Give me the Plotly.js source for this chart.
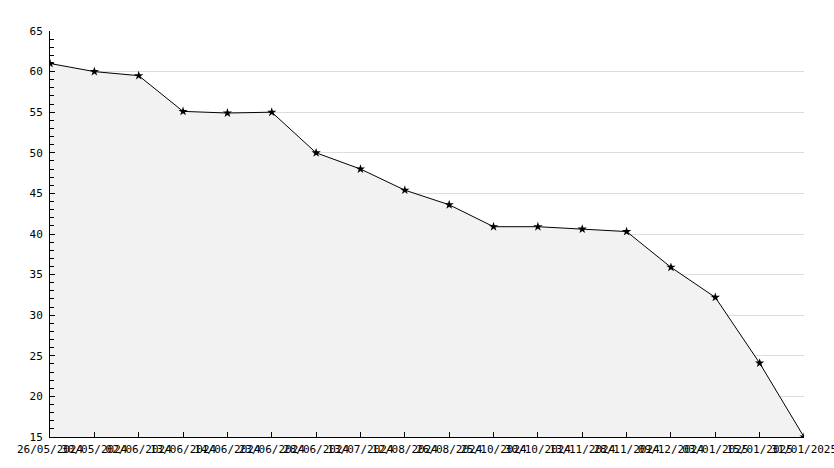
<!DOCTYPE html>
<html>
<head>
<meta charset="utf-8">
<script src="https://cdn.plot.ly/plotly-3.0.1.min.js"></script>
<style>html,body{margin:0;padding:0;background:#fff;}#chart{width:834px;height:468px;}</style>
</head>
<body>
<div id="chart"></div>
<script>
const dates = ["26/05/2024","30/05/2024","02/06/2024","13/06/2024","14/06/2024","23/06/2024","28/06/2024","13/07/2024","12/08/2024","26/08/2024","25/10/2024","30/10/2024","13/11/2024","28/11/2024","09/12/2024","03/01/2025","15/01/2025","31/01/2025"];
const values = [61.0,60.0,59.5,55.1,54.9,55.0,50.0,48.0,45.4,43.6,40.9,40.9,40.6,40.3,35.9,32.2,24.1,15.0];
const idx = dates.map((d,i)=>i);

const trace = {
  x: idx, y: values, type: 'scatter', mode: 'lines+markers',
  fill: 'tozeroy', fillcolor: '#f2f2f2',
  line: {color: '#000', width: 1},
  marker: {symbol: 'star', size: 7, color: '#000'},
  hoverinfo: 'skip'
};
const layout = {
  width: 834, height: 468,
  margin: {l: 50, r: 30, t: 31, b: 31},
  paper_bgcolor: '#fff', plot_bgcolor: '#fff',
  showlegend: false,
  font: {family: 'DejaVu Sans Mono', size: 11, color: '#000'},
  xaxis: {
    range: [0, dates.length - 1], tickmode: 'array', tickvals: idx, ticktext: dates,
    tickangle: 0, ticks: 'inside', ticklen: 5, tickcolor: '#000',
    showgrid: false, zeroline: false, showline: true, linecolor: '#000', linewidth: 1,
    ticklabeloverflow: 'allow', ticklabelstandoff: 2, automargin: false
  },
  yaxis: {
    range: [15, 65], dtick: 5, tick0: 15, ticks: 'inside', ticklen: 5, tickcolor: '#000',
    minor: {dtick: 1, ticks: 'inside', ticklen: 4, tickcolor: '#000', showgrid: false},
    showgrid: true, gridcolor: '#dddddd', gridwidth: 1, zeroline: false,
    showline: true, linecolor: '#000', linewidth: 1, ticklabelstandoff: 4, automargin: false
  }
};
Plotly.newPlot('chart', [trace], layout, {displayModeBar: false, staticPlot: true});
</script>
</body>
</html>
